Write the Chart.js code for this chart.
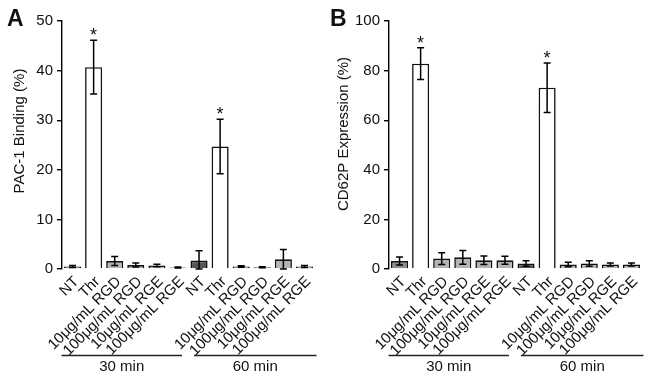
<!DOCTYPE html>
<html>
<head>
<meta charset="utf-8">
<script src="https://cdn.jsdelivr.net/npm/chart.js@4"></script>
<style>
  body { margin: 0; background: #fff; }
  .wrap { display: flex; width: 654px; height: 380px; }
  canvas { display: block; }
</style>
</head>
<body>
<div class="wrap">
  <canvas id="chartA" width="327" height="380"></canvas>
  <canvas id="chartB" width="327" height="380"></canvas>
</div>
<script>
const conditions = ['NT', 'Thr', '10μg/mL RGD', '100μg/mL RGD', '10μg/mL RGE', '100μg/mL RGE'];
const groups = ['30 min', '60 min'];
const labels = conditions.concat(conditions);

// PAC-1 binding (%), mean and error
const pac1Mean = [0.5, 40.7, 1.6, 0.8, 0.7, 0.3, 1.7, 24.7, 0.5, 0.35, 1.95, 0.5];
const pac1Err = [0.2, 5.4, 0.9, 0.4, 0.25, 0.1, 2.0, 5.5, 0.15, 0.1, 2.0, 0.2];

// CD62P expression (%), mean and error
const cd62Mean = [3.2, 82.8, 4.2, 4.7, 3.5, 3.5, 2.2, 73.1, 1.8, 2.2, 1.8, 1.8];
const cd62Err = [1.6, 6.4, 2.4, 2.8, 1.7, 1.6, 1.1, 10.0, 0.9, 1.1, 0.6, 0.6];

const starred = [1, 7];

const barColors = ['#8e8e8e', '#ffffff', '#b5b5b5', '#b5b5b5', '#b5b5b5', '#b5b5b5',
                   '#555555', '#ffffff', '#b5b5b5', '#b5b5b5', '#b5b5b5', '#b5b5b5'];

const FONT = "'Liberation Sans', Arial, sans-serif";
const INK = '#111';

const extras = {
  id: 'extras',
  afterDatasetsDraw(chart, args, opts) {
    const ctx = chart.ctx;
    const x = chart.scales.x, y = chart.scales.y;
    const mean = chart.data.datasets[0].data;
    const err = opts.err;
    ctx.save();
    ctx.strokeStyle = '#000';
    ctx.lineWidth = 1.5;
    mean.forEach((v, i) => {
      const px = x.getPixelForValue(i);
      const top = y.getPixelForValue(v + err[i]);
      const bot = y.getPixelForValue(Math.max(0, v - err[i]));
      ctx.beginPath();
      ctx.moveTo(px, bot); ctx.lineTo(px, top);
      ctx.moveTo(px - 3.5, top); ctx.lineTo(px + 3.5, top);
      ctx.moveTo(px - 3.5, bot); ctx.lineTo(px + 3.5, bot);
      ctx.stroke();
    });
    // significance stars
    ctx.fillStyle = INK;
    ctx.font = '18px ' + FONT;
    ctx.textAlign = 'center';
    ctx.textBaseline = 'alphabetic';
    starred.forEach((i) => {
      const px = x.getPixelForValue(i);
      const top = y.getPixelForValue(mean[i] + err[i]);
      ctx.fillText('*', px, top + 1);
    });
    ctx.restore();
  },
  afterDraw(chart, args, opts) {
    const ctx = chart.ctx;
    const x = chart.scales.x;
    ctx.save();
    // time group brackets
    ctx.strokeStyle = '#222';
    ctx.lineWidth = 1.4;
    ctx.fillStyle = INK;
    ctx.font = '15px ' + FONT;
    ctx.textAlign = 'center';
    ctx.textBaseline = 'middle';
    const pads = [[-11, 4], [-5, 12]];
    groups.forEach((g, k) => {
      const x0 = x.getPixelForValue(k * 6) + pads[k][0];
      const x1 = x.getPixelForValue(k * 6 + 5) + pads[k][1];
      ctx.beginPath();
      ctx.moveTo(x0, 355.5); ctx.lineTo(x1, 355.5);
      ctx.stroke();
      ctx.fillText(g, (x0 + x1) / 2, 367);
    });
    // y axis title
    ctx.save();
    ctx.translate(opts.titleX, opts.titleY);
    ctx.rotate(-Math.PI / 2);
    ctx.font = '15px ' + FONT;
    ctx.fillText(opts.title, 0, 0);
    ctx.restore();
    // panel letter
    ctx.font = 'bold 23px ' + FONT;
    ctx.textAlign = 'left';
    ctx.textBaseline = 'alphabetic';
    ctx.fillText(opts.letter, opts.letterX, 26);
    ctx.restore();
  }
};

function makeChart(id, mean, err, yMax, yStep, title, letter, titleX, titleY, letterX) {
  return new Chart(document.getElementById(id), {
    type: 'bar',
    data: {
      labels,
      datasets: [{
        data: mean,
        backgroundColor: barColors,
        borderColor: '#111',
        borderWidth: 1.6,
        barPercentage: 0.81,
        categoryPercentage: 1
      }]
    },
    options: {
      responsive: false,
      animation: false,
      layout: { padding: { top: 21, right: 12, left: 0, bottom: 0 } },
      plugins: {
        legend: { display: false },
        tooltip: { enabled: false },
        extras: { err, title, letter, titleX, titleY, letterX }
      },
      scales: {
        x: {
          afterFit: (s) => { s.height = 111; },
          grid: { display: false },
          border: { display: false },
          ticks: {
            autoSkip: false,
            maxRotation: 45,
            minRotation: 45,
            padding: -4,
            labelOffset: 4,
            color: INK,
            font: { family: FONT, size: 15 }
          }
        },
        y: {
          min: 0,
          max: yMax,
          afterFit: (s) => { s.width = 62; },
          grid: { drawOnChartArea: false, tickLength: 5, color: '#000', lineWidth: 1.4 },
          border: { color: '#000', width: 1.4 },
          ticks: {
            stepSize: yStep,
            padding: 4,
            color: INK,
            font: { family: FONT, size: 15 }
          }
        }
      }
    },
    plugins: [extras]
  });
}

makeChart('chartA', pac1Mean, pac1Err, 50, 10, 'PAC-1 Binding (%)', 'A', 20, 131, 7);
makeChart('chartB', cd62Mean, cd62Err, 100, 20, 'CD62P Expression (%)', 'B', 17, 134, 3);
</script>
</body>
</html>
